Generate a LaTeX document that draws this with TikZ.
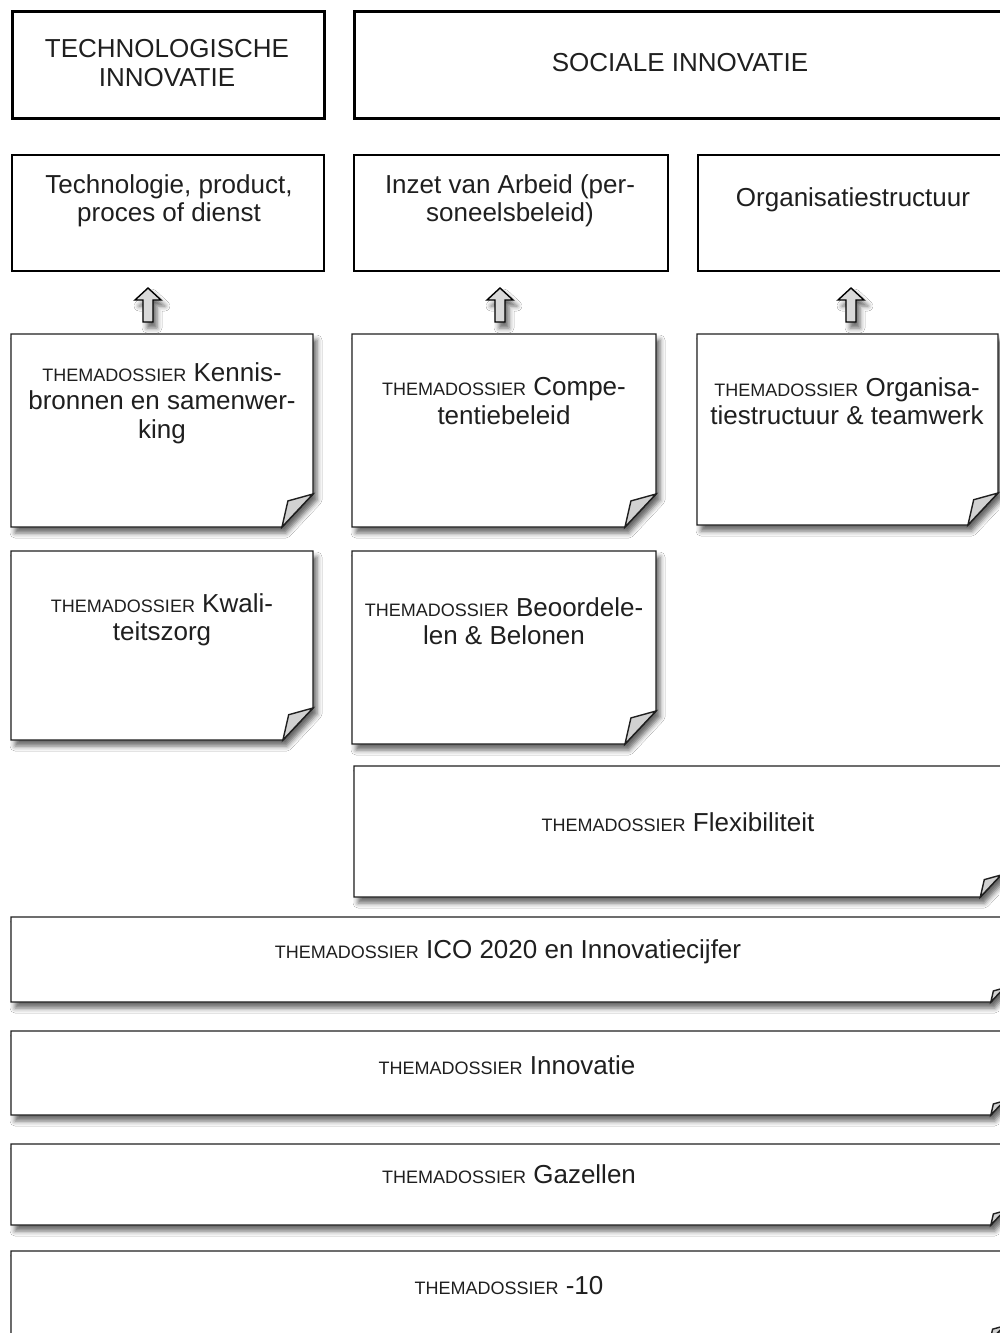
\documentclass[tikz,border=0pt]{standalone}
\usepackage{fontspec}
\setmainfont{Liberation Sans}
\usetikzlibrary{shadows.blur}
\newcommand{\TD}{{\fontsize{18}{20}\selectfont THEMADOSSIER}}
% note box: x1 y1 x2 y2 fold
\newcommand{\notebox}[5]{%
  \fill[white, softshadow] (#1,#2) -- (#3,#2) -- (#3,#4-#5) -- (#3-0.94*#5,#4) -- (#1,#4) -- cycle;
  \draw[noteline] (#1,#2) -- (#3,#2) -- (#3,#4-#5) -- (#3-0.94*#5,#4) -- (#1,#4) -- cycle;
  \filldraw[noteline, fill=black!18] (#3,#4-#5) -- (#3-0.76*#5,#4-0.79*#5) -- (#3-0.94*#5,#4) -- cycle;
}
\newcommand{\uparrowshape}[2]{% centre x, tip y
  \filldraw[noteline, draw=black, fill=black!15, softshadow] (#1,#2) -- (#1+13,#2+12) -- (#1+5,#2+12) -- (#1+5,#2+34) -- (#1-5,#2+34) -- (#1-5,#2+12) -- (#1-13,#2+12) -- cycle;
}
\begin{document}
\begin{tikzpicture}[x=1pt,y=-1pt,
  hdr/.style={draw=black, line width=3.2pt, fill=white, anchor=north west, inner sep=0pt},
  sub/.style={draw=black, line width=2pt, fill=white, anchor=north west, inner sep=0pt},
  txt/.style={align=center, font=\fontsize{26}{28.5}\selectfont, text=black!88, inner sep=0pt},
  noteline/.style={draw=black!88, line width=1.4pt, line join=miter},
  softshadow/.style={blur shadow={shadow xshift=4pt, shadow yshift=-6pt, shadow blur radius=5pt, shadow opacity=60}}]
\useasboundingbox (0,0) rectangle (999,1333);
\fill[white] (0,0) rectangle (999,1333);

% row 1
\node[hdr, minimum width=312pt, minimum height=107pt] (b1) at (11,10) {};
\node[hdr, minimum width=655pt, minimum height=107pt] (b2) at (353,10) {};
\node[txt] (t1) at (167,63) {TECHNOLOGISCHE\\INNOVATIE};
\node[txt] (t2) at (680,63) {SOCIALE INNOVATIE};

% row 2
\node[sub, minimum width=312pt, minimum height=116pt] (b3) at (11,154) {};
\node[sub, minimum width=314pt, minimum height=116pt] (b4) at (353,154) {};
\node[sub, minimum width=312pt, minimum height=116pt] (b5) at (697,154) {};
\node[txt] (t3) at (169,201) {Technologie, product,\\proces of dienst};
\node[txt] (t4) at (510,201) {Inzet van Arbeid (per-\\soneelsbeleid)};
\node[txt] (t5) at (853,200) {Organisatiestructuur};

% arrows
\uparrowshape{148}{288}
\uparrowshape{500}{288}
\uparrowshape{851}{288}

% notes
\notebox{11}{334}{313}{527}{33}
\notebox{352}{334}{656}{527}{33}
\notebox{697}{334}{998}{525}{32}
\notebox{11}{551}{313}{740}{32}
\notebox{352}{551}{656}{744}{33}
\notebox{354}{766}{1001}{897}{22}
\notebox{11}{917}{1004}{1002}{14}
\notebox{11}{1031}{1004}{1115}{14}
\notebox{11}{1144}{1004}{1225}{14}
\notebox{11}{1251}{1004}{1341}{15}

\node[txt] (n1) at (162,403) {\TD{} Kennis-\\bronnen en samenwer-\\king};
\node[txt] (n2) at (504,401) {\TD{} Compe-\\tentiebeleid};
\node[txt] (n3) at (847,401) {\TD{} Organisa-\\tiestructuur \& teamwerk};
\node[txt] (n4) at (162,620) {\TD{} Kwali-\\teitszorg};
\node[txt] (n5) at (504,621) {\TD{} Beoordele-\\len \& Belonen};
\node[txt] (n6) at (678,822) {\TD{} Flexibiliteit};
\node[txt] (n7) at (508,952) {\TD{} ICO 2020 en Innovatiecijfer};
\node[txt] (n8) at (507,1065) {\TD{} Innovatie};
\node[txt] (n9) at (509,1174) {\TD{} Gazellen};
\node[txt] (n10) at (509,1286) {\TD{} -10};
\end{tikzpicture}
\end{document}
